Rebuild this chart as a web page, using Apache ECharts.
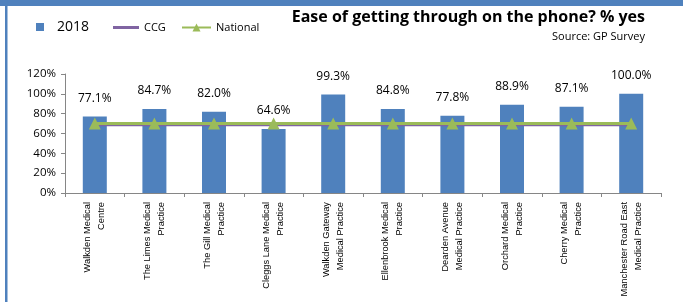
<!DOCTYPE html>
<html>
<head>
<meta charset="utf-8">
<script src="https://cdn.jsdelivr.net/npm/echarts@6/dist/echarts.min.js"></script>
<style>
  html, body { margin: 0; padding: 0; background: #fff; }
  #main { width: 683px; height: 302px; }
</style>
</head>
<body>
<div id="main"></div>
<script>
// practices (x axis), two-line labels as in the source chart
const practices = [
  "Walkden Medical\nCentre",
  "The Limes Medical\nPractice",
  "The Gill Medical\nPractice",
  "Cleggs Lane Medical\nPractice",
  "Walkden Gateway\nMedical Practice",
  "Ellenbrook Medical\nPractice",
  "Dearden Avenue\nMedical Practice",
  "Orchard Medical\nPractice",
  "Cherry Medical\nPractice",
  "Manchester Road East\nMedical Practice"
];
const year2018 = [77.1, 84.7, 82.0, 64.6, 99.3, 84.8, 77.8, 88.9, 87.1, 100.0];
const ccg = [68.5, 68.5, 68.5, 68.5, 68.5, 68.5, 68.5, 68.5, 68.5, 68.5];
const national = [70, 70, 70, 70, 70, 70, 70, 70, 70, 70];

const font = "'Open Sans', 'Noto Sans', sans-serif";
const labelFont = "'Liberation Sans', Arial, sans-serif";

const chart = echarts.init(document.getElementById('main'), null, {renderer: 'canvas'});

const legendBase = {
  top: 22,
  padding: 0,
  itemGap: 0,
  textStyle: {fontFamily: font, fontSize: 11, color: '#000'}
};

const option = {
  animation: false,
  backgroundColor: '#fff',
  title: [
    {
      text: 'Ease of getting through on the phone? % yes',
      right: 38,
      top: 9,
      padding: 0,
      textStyle: {fontFamily: font, fontSize: 16, fontWeight: 'bold', color: '#000'}
    },
    {
      text: 'Source: GP Survey',
      right: 38,
      top: 31,
      padding: 0,
      textStyle: {fontFamily: font, fontSize: 11, fontWeight: 'normal', color: '#000'}
    }
  ],
  legend: [
    Object.assign({}, legendBase, {
      left: 36, top: 20,
      itemWidth: 8, itemHeight: 8,
      data: [{name: '2018', icon: 'rect'}],
      textStyle: {fontFamily: font, fontSize: 14, color: '#000', padding: [0, 0, 0, 8]}
    }),
    Object.assign({}, legendBase, {
      left: 113,
      itemWidth: 26, itemHeight: 3,
      data: [{name: 'CCG', icon: 'rect'}]
    }),
    Object.assign({}, legendBase, {
      left: 181,
      itemWidth: 29, itemHeight: 10,
      data: ['National']
    })
  ],
  grid: {left: 65, right: 22, top: 74, bottom: 109, containLabel: false, outerBoundsMode: 'none'},
  xAxis: {
    type: 'category',
    data: practices,
    axisLine: {lineStyle: {color: '#868686'}},
    axisTick: {show: true, length: 4, lineStyle: {color: '#868686'}},
    axisLabel: {
      rotate: 90,
      interval: 0,
      margin: 9,
      fontFamily: labelFont,
      fontSize: 9.3,
      lineHeight: 14,
      color: '#000'
    }
  },
  yAxis: {
    type: 'value',
    min: 0,
    max: 120,
    interval: 20,
    splitLine: {show: false},
    axisLine: {show: true, lineStyle: {color: '#868686'}},
    axisTick: {show: true, length: 4, lineStyle: {color: '#868686'}},
    axisLabel: {
      formatter: '{value}%',
      fontFamily: font,
      fontSize: 11.5,
      color: '#000',
      margin: 9
    }
  },
  series: [
    {
      name: '2018',
      type: 'bar',
      data: year2018,
      barWidth: 24,
      itemStyle: {color: '#4F81BD'},
      label: {
        show: true,
        position: 'top',
        distance: 12,
        formatter: p => p.value.toFixed(1) + '%',
        fontFamily: font,
        fontSize: 12,
        color: '#000'
      },
      z: 1
    },
    {
      name: 'CCG',
      type: 'line',
      data: ccg,
      symbol: 'none',
      lineStyle: {color: '#8064A2', width: 2.5},
      itemStyle: {color: '#8064A2'},
      z: 2
    },
    {
      name: 'National',
      type: 'line',
      data: national,
      symbol: 'triangle',
      symbolSize: 12,
      lineStyle: {color: '#9BBB59', width: 3},
      itemStyle: {color: '#9BBB59'},
      z: 3
    }
  ],
  graphic: [
    {type: 'rect', shape: {x: 0, y: 0, width: 683, height: 6}, style: {fill: '#4F81BD'}},
    {type: 'rect', shape: {x: 5, y: 0, width: 2.5, height: 302}, style: {fill: '#4F81BD'}}
  ]
};

chart.setOption(option);
</script>
</body>
</html>
